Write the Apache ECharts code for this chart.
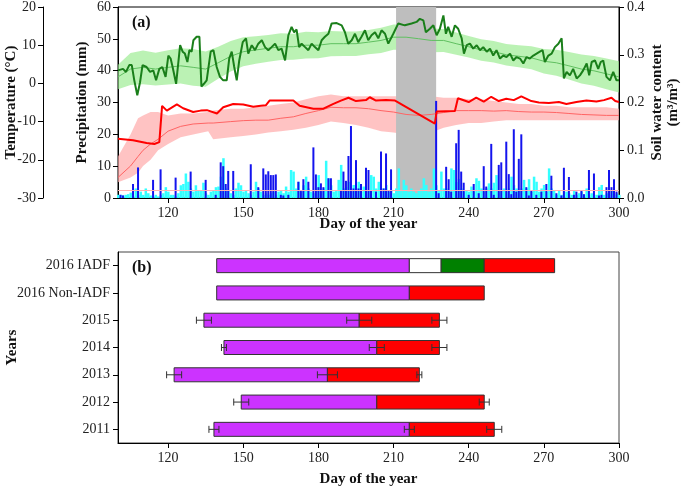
<!DOCTYPE html>
<html><head><meta charset="utf-8">
<script src="https://cdn.jsdelivr.net/npm/echarts@6/dist/echarts.min.js"></script>
<style>html,body{margin:0;padding:0;background:#fff}#c{width:685px;height:490px}</style>
</head><body><div id="c"></div>
<script>
// ---------- Data ----------
const dayTicks = [120, 150, 180, 210, 240, 270, 300];
const firstDay = 100;

// Daily precipitation (mm), day 100..300
const precip2016 = [
0,1,0.8,0,0,0,4.4,0,9.6,0,
0,0,0,0,5.7,0,0,9,0,0,
0,0,0,6.4,0,0,0,0,0,8.3,
0,0,0,0,0,5.7,0,0,0,1,
0,11.2,10,4.4,8.5,0,8.5,0,0,0,
0,0,0,10.6,0,0,3.4,0,9.3,7.4,
8.4,7.2,7.2,7.4,0,1,0.8,0,1,0,
0,0,5.1,2.3,5.9,0,5.1,0,15.9,7.4,
3.4,4.6,3.4,0,6.2,6.2,0,0,0,2.5,
8.3,5.4,13.2,22.6,3,11.9,3,4.4,0,9.5,
8.8,2.5,0,2,0,14.6,3,14,2.5,9,
0,0,0,0,0,0,0,0,0,0,
0,0,0,0,0,0,0,30.5,1.5,0,
0,9.8,5.9,2,0,17.2,21.4,8.3,4.8,0,
1,0,4.4,0,1.5,0,10,3.6,0,17,
1,0,10.4,11.2,0,17.7,7.5,1.2,21.6,2,
12.3,20,0,3.4,0.8,2.5,0,1,0,2,
0,4.4,0,7,0,1.5,0,0.8,9.5,0,
6.6,0,1,2,0,2.5,1.2,0,8.8,0,
7.7,0,0.8,1,0,3.4,8.8,3.4,5.9,2,
0];
const precipMean = [
1,1,0.8,1,1.2,1.7,0.5,3,1,2,
1,3,1.5,0.8,0.5,1,0.5,1,1.5,3.4,
2,1,1,0.5,1.5,4,4.4,7.7,5.1,3,
2,4,2.5,2.5,4.8,1.5,1,2,2.5,3.4,
3.6,6.7,12.5,3,2.5,1.5,1,3,4.8,4,
2,2.5,1.5,1,2,5.1,3,2,1,1.5,
1,1.5,2,1,2,2.5,1.5,3.6,2,8.8,
8.3,3,5.1,2,4,6.7,3,2,1.5,3,
7.2,2,3,11.7,6.2,4,2,2.5,5.7,10.4,
3,3.5,5.1,2,4.1,2.5,5.1,2,3.6,2,
2.5,7.2,6.7,3,5.1,2,3,4.1,2,2.5,
1.5,3,9.3,2.5,5.7,4,2,3,2,1.5,
2.5,3,6.2,4.1,2,3,9.3,4,2.5,8.3,
3,3,2,9.3,8.8,5,6,3,2,2.5,
2,3.6,2,6.2,5.4,3,2,3,4.6,3,
4.8,7.2,2,2.5,3,2,3,6.7,4,3,
2.5,3,5.7,3,5.9,2,6.7,5.1,2,3,
4.1,2,9.3,3,2.5,1,2.5,1,2,2,
1.5,1,2.5,1,1.5,2,1,3,1,1.5,
1,1,3.4,4.1,1,1.5,1,2.5,1,1.5,
1];
const precipRefLine = 2.4;

// 2016 daily temperature (°C): [day, value]
const temp2016 = [[100,3.4],[102,3.8],[103.2,3.0],[104.5,4.8],[105.5,4.8],[106.5,0.8],[107.7,-3.1],[108.8,0.3],[109.8,4.8],[111.4,4.3],[112.8,3.0],[114.1,3.4],[115.2,0.8],[116.5,3.8],[117.7,4.3],[119,1.7],[120.1,7.3],[121,6.5],[121.8,4.3],[123.2,-0.1],[124.8,10],[125.8,8.3],[126.7,7.8],[127.7,5.6],[128.5,8.7],[129.4,8.3],[130.1,11.3],[131.4,12.2],[132.5,12.2],[133.3,-0.8],[134.3,-0.1],[135.4,0.8],[137,8.3],[138.1,8.7],[139.4,4.3],[140.7,1.7],[142,0.8],[143.4,0.8],[144.4,6.5],[145.4,8.3],[146.4,4.3],[147.4,0.8],[148.4,6],[149.8,10.8],[151.1,11.8],[152,7.8],[153.4,10],[154.7,8.7],[156,10.4],[157.4,11.3],[158.7,9.5],[160,8.7],[161.3,9.5],[162.7,10.4],[164,8.7],[165.3,9.1],[166.7,6],[168,12.6],[169.3,14.8],[170.3,13.4],[171.3,14.1],[172.3,9.5],[173.3,10.4],[174.7,9.5],[176,8.7],[177.3,10.4],[178.6,9.5],[180,8.7],[181.3,11.3],[182.6,12.2],[184,13],[185.3,15.7],[187.3,15.8],[189.3,15.2],[190.6,13.4],[191.9,10.4],[193.3,11.3],[194.6,13],[195.9,10.8],[197.2,12.2],[198.6,13.9],[199.9,11.3],[201.2,12.6],[202.6,13.4],[203.9,11.8],[205.2,13.9],[206.6,13],[207.9,10.4],[209.9,13],[211.9,15.7],[214.5,15.2],[217.2,15.7],[219.2,16.1],[220.5,16.9],[221.9,16.5],[222.9,13.4],[224.5,14.3],[225.9,15.2],[227.2,12.6],[228.5,14.3],[229.9,17.8],[230.9,13],[231.8,14.8],[233.2,12.2],[234.5,15.2],[235.8,14.3],[237.2,11.8],[238.1,7.8],[239.2,10],[240.5,10.4],[241.8,9.1],[243.2,10],[244.5,8.7],[245.8,9.5],[247.2,8.3],[248.5,9.1],[249.8,7.3],[251.1,8.7],[252.5,6.5],[253.8,7.3],[255.1,6.9],[256.5,7.8],[257.8,6],[259.1,6.9],[260.5,6.5],[261.8,5.2],[263.1,6.9],[264.4,6.5],[265.8,7.3],[267.1,7.8],[268.4,8.3],[269.5,8.7],[270.4,5.6],[271.8,7.3],[273.1,7.8],[274.4,9.5],[275.8,10.4],[277.1,11.8],[278,1.3],[279.1,3],[280.4,2.1],[281.7,3.8],[283.1,1.3],[284.4,2.1],[285.7,3.4],[287.1,5.2],[288.1,2.1],[289.1,5.6],[290.4,6],[291.7,3.8],[292.7,5.6],[293.7,6],[295,1.7],[296.4,0.8],[297.7,3],[299,0.8],[300,0.8]];

// Multi-year temperature mean ± SD (°C)
const tempBandDays = [100,105,110,115,120,125,130,135,140,145,150,155,160,165,170,175,180,185,190,195,200,205,210,215,220,225,230,235,240,245,250,255,260,265,270,275,280,285,290,295,300];
const tempMean = [1.7,3.75,4.2,3.75,4.2,4.6,4.2,3.75,5.4,7.1,8.3,8.75,9.2,9.6,9.6,10,10,10.4,10.4,10.4,10.8,11.25,12.1,12.1,11.7,11.25,11.25,10.4,9.6,8.75,8.3,7.5,7.1,6.7,5.8,5.4,4.6,3.75,3.3,2.5,1.7];
const tempSD = [3.2,4.2,4.4,4.3,4.5,4.6,4.8,4.6,4.2,4,3.8,3.6,3.5,3.5,3.4,3.5,3.4,3.3,3.2,3.2,3.2,3.3,3.3,3.3,3.2,3.1,3,2.9,2.8,2.8,2.8,2.8,2.9,3,3.2,3.4,3.6,3.8,3.9,4,4.1];

// 2016 soil water content (m3/m3): [day, value]
const swc2016 = [[100,0.124],[106,0.121],[111.4,0.115],[114.5,0.113],[116.5,0.117],[117.6,0.193],[119.5,0.183],[123.5,0.196],[126,0.188],[130,0.18],[133,0.183],[135.5,0.184],[139.5,0.177],[142,0.19],[146,0.197],[150,0.196],[154,0.191],[157,0.193],[159,0.194],[160.5,0.204],[166,0.204],[170,0.204],[172.5,0.193],[178,0.187],[182,0.187],[186,0.197],[189,0.204],[192,0.21],[195,0.203],[199,0.205],[200.5,0.211],[203,0.204],[207,0.205],[210.6,0.204],[226.5,0.156],[227.2,0.181],[234.5,0.182],[235.7,0.209],[240,0.201],[243,0.21],[246,0.202],[249,0.212],[252,0.203],[255,0.208],[258,0.205],[261,0.213],[265,0.203],[268,0.2],[272,0.199],[276,0.201],[279,0.197],[283,0.201],[287,0.204],[291,0.202],[294,0.205],[297,0.21],[298.5,0.203],[300,0.201]];

// Multi-year soil water content mean and range
const swcBandDays = [100,105,108,110,113,116,120,125,130,136,138,145,150,155,160,165,170,175,180,185,190,195,200,205,210,215,220,225,230,235,240,245,250,255,260,265,270,275,280,285,290,295,300];
const swcMean = [0.043,0.067,0.087,0.1,0.113,0.123,0.14,0.15,0.155,0.157,0.157,0.16,0.162,0.163,0.163,0.167,0.17,0.177,0.183,0.19,0.189,0.189,0.187,0.183,0.18,0.175,0.173,0.175,0.179,0.183,0.183,0.183,0.182,0.183,0.181,0.18,0.18,0.179,0.177,0.175,0.174,0.173,0.173];
const swcLow = [0.033,0.043,0.053,0.067,0.08,0.1,0.113,0.127,0.133,0.14,0.123,0.127,0.13,0.133,0.137,0.14,0.143,0.147,0.153,0.16,0.157,0.153,0.147,0.14,0.137,0.133,0.133,0.137,0.147,0.153,0.157,0.157,0.16,0.163,0.163,0.163,0.163,0.163,0.163,0.163,0.163,0.163,0.163];
const swcHigh = [0.087,0.133,0.167,0.173,0.18,0.18,0.173,0.177,0.177,0.18,0.183,0.187,0.187,0.19,0.193,0.197,0.2,0.207,0.213,0.217,0.213,0.213,0.213,0.213,0.213,0.213,0.213,0.213,0.21,0.21,0.207,0.207,0.203,0.2,0.197,0.197,0.193,0.193,0.19,0.19,0.19,0.19,0.187];

const missingPeriod = [211, 227];

// Panel (b): xylogenesis phases
const years = ['2011', '2012', '2013', '2014', '2015', '2016 Non-IADF', '2016 IADF'];
const enlargeStart = [138.3, 149.2, 122.4, 142.3, 134.3, 139.4, 139.4];
const enlargeStartErr = [2, 3, 3, 1, 3, 0, 0];
const wallStart = [216.3, 203.3, 183.6, 203.3, 196.3, 216.3, 216.3];
const wallStartErr = [2, 0, 4, 3, 5, 0, 0];
const growthEnd = [250.2, 246.2, 220.3, 228.3, 228.3, 246.2, 274.3];
const growthEndErr = [3, 2, 1, 3, 3, 0, 0];
const iadfWhiteEnd = 229;
const iadfGreenEnd = 246.2;

// ---------- Chart ----------
const FONT = 'Liberation Serif';
const chart = echarts.init(document.getElementById('c'));

function band(days, lo, hi, yIdx, color) {
  return {
    type: 'custom', xAxisIndex: 0, yAxisIndex: yIdx, z: 1, silent: true,
    data: [[days[0], lo[0]]],
    renderItem: function (params, api) {
      const pts = [];
      for (let i = 0; i < days.length; i++) pts.push(api.coord([days[i], hi[i]]));
      for (let i = days.length - 1; i >= 0; i--) pts.push(api.coord([days[i], lo[i]]));
      return { type: 'polygon', shape: { points: pts }, style: { fill: color } };
    }
  };
}

const tempLo = tempMean.map((m, i) => m - tempSD[i]);
const tempHi = tempMean.map((m, i) => m + tempSD[i]);

const axisCommon = {
  nameMoveOverlap: false,
  axisLine: { show: true, lineStyle: { color: '#000', width: 1 } },
  axisTick: { show: true, length: 5, lineStyle: { color: '#000' } },
  axisLabel: { color: '#222', fontSize: 14, fontFamily: FONT },
  splitLine: { show: false },
  nameTextStyle: { color: '#111', fontSize: 15, fontWeight: 'bold', fontFamily: FONT }
};

function xAxisDef(grid, gap) {
  return Object.assign({}, axisCommon, {
    type: 'value', gridIndex: grid, min: 100, max: 300,
    name: 'Day of the year', nameLocation: 'middle', nameGap: gap,
    axisTick: { show: true, length: 5, customValues: dayTicks, lineStyle: { color: '#000' } },
    axisLabel: { color: '#222', fontSize: 14, fontFamily: FONT, margin: 8, customValues: dayTicks }
  });
}

// Gantt segments
const segColors = ['#CC33FF', '#FF0000', '#FFFFFF', '#008000'];
const segments = [];
for (let i = 0; i < years.length; i++) {
  segments.push([enlargeStart[i], wallStart[i], i, 0]);
  if (years[i] === '2016 IADF') {
    segments.push([wallStart[i], iadfWhiteEnd, i, 2]);
    segments.push([iadfWhiteEnd, iadfGreenEnd, i, 3]);
    segments.push([iadfGreenEnd, growthEnd[i], i, 1]);
  } else {
    segments.push([wallStart[i], growthEnd[i], i, 1]);
  }
}
const errs = [];
for (let i = 0; i < years.length; i++) {
  if (enlargeStartErr[i]) errs.push([enlargeStart[i], i, enlargeStartErr[i]]);
  if (wallStartErr[i]) errs.push([wallStart[i], i, wallStartErr[i]]);
  if (growthEndErr[i]) errs.push([growthEnd[i], i, growthEndErr[i]]);
}

const option = {
  animation: false,
  backgroundColor: '#fff',
  textStyle: { fontFamily: FONT },
  grid: [
    { left: 118, right: 66, top: 7, height: 191, outerBoundsMode: 'none', containLabel: false, show: true, borderColor: '#000', borderWidth: 1, backgroundColor: 'transparent' },
    { left: 118, right: 66, top: 252, height: 191, outerBoundsMode: 'none', containLabel: false, show: true, borderColor: '#444', borderWidth: 1, backgroundColor: 'transparent' }
  ],
  xAxis: [xAxisDef(0, 19), xAxisDef(1, 29)],
  yAxis: [
    Object.assign({}, axisCommon, {
      type: 'value', gridIndex: 0, position: 'left', min: 0, max: 60, interval: 10,
      name: 'Precipitation (mm)', nameLocation: 'middle', nameGap: 28,
      axisLabel: { color: '#222', fontSize: 14, fontFamily: FONT, margin: 7 }
    }),
    Object.assign({}, axisCommon, {
      type: 'value', gridIndex: 0, position: 'left', offset: 75, min: -30, max: 20, interval: 10,
      name: 'Temperature (°C)', nameLocation: 'middle', nameGap: 24,
      axisLabel: { color: '#222', fontSize: 14, fontFamily: FONT, margin: 7 }
    }),
    Object.assign({}, axisCommon, {
      type: 'value', gridIndex: 0, position: 'right', min: 0, max: 0.4, interval: 0.1,
      name: 'Soil water content\n(m³/m³)', nameLocation: 'middle', nameGap: 30, nameRotate: 90,
      nameTextStyle: { color: '#111', fontSize: 15, fontWeight: 'bold', fontFamily: FONT, lineHeight: 16 },
      axisLabel: { color: '#222', fontSize: 14, fontFamily: FONT, margin: 8, formatter: v => v.toFixed(1) }
    }),
    Object.assign({}, axisCommon, {
      type: 'category', gridIndex: 1, data: years,
      name: 'Years', nameLocation: 'middle', nameGap: 98,
      axisTick: { show: true, length: 5, alignWithLabel: true, lineStyle: { color: '#000' } },
      axisLabel: { color: '#222', fontSize: 14, fontFamily: FONT, margin: 8 }
    })
  ],
  graphic: [
    { type: 'text', left: 132, top: 15, style: { text: '(a)', fontSize: 16, fontWeight: 'bold', fontFamily: FONT, fill: '#111' } },
    { type: 'text', left: 132, top: 260, style: { text: '(b)', fontSize: 16, fontWeight: 'bold', fontFamily: FONT, fill: '#111' } }
  ],
  series: [
    band(tempBandDays, tempLo, tempHi, 1, 'rgba(150,235,140,0.65)'),
    band(swcBandDays, swcLow, swcHigh, 2, 'rgba(255,170,170,0.7)'),
    {
      type: 'custom', xAxisIndex: 0, yAxisIndex: 0, z: 2, silent: true,
      data: [[missingPeriod[0], 0]],
      renderItem: function (params, api) {
        const p1 = api.coord([missingPeriod[0], 60]);
        const p2 = api.coord([missingPeriod[1], 0]);
        return { type: 'rect', shape: { x: p1[0], y: p1[1], width: p2[0] - p1[0], height: p2[1] - p1[1] }, style: { fill: '#BEBEBE' } };
      }
    },
    {
      type: 'bar', xAxisIndex: 0, yAxisIndex: 0, z: 3, barWidth: 2.5, barGap: '-100%',
      data: precipMean.map((v, i) => [firstDay + i, v]),
      itemStyle: { color: '#33FFFF' },
      markLine: { silent: true, symbol: 'none', label: { show: false }, lineStyle: { color: '#FFB0B0', width: 1, type: 'solid' }, data: [{ yAxis: precipRefLine }] }
    },
    {
      type: 'bar', xAxisIndex: 0, yAxisIndex: 0, z: 3, barWidth: 2, barGap: '-100%',
      data: precip2016.map((v, i) => [firstDay + i, v]),
      itemStyle: { color: '#1414EE' }
    },
    {
      type: 'line', xAxisIndex: 0, yAxisIndex: 2, z: 4, symbol: 'none', silent: true,
      data: swcBandDays.map((d, i) => [d, swcMean[i]]),
      lineStyle: { color: '#FF6464', width: 1 }
    },
    {
      type: 'line', xAxisIndex: 0, yAxisIndex: 1, z: 4, symbol: 'none', silent: true,
      data: tempBandDays.map((d, i) => [d, tempMean[i]]),
      lineStyle: { color: '#60C060', width: 1 }
    },
    {
      type: 'line', xAxisIndex: 0, yAxisIndex: 2, z: 5, symbol: 'none', silent: true,
      data: swc2016, lineStyle: { color: '#FF0000', width: 2 }
    },
    {
      type: 'line', xAxisIndex: 0, yAxisIndex: 1, z: 5, symbol: 'none', silent: true,
      data: temp2016, lineStyle: { color: '#1A7F1A', width: 2 }
    },
    {
      type: 'custom', xAxisIndex: 1, yAxisIndex: 3, z: 3, silent: true,
      encode: { x: [0, 1], y: 2 },
      data: segments,
      renderItem: function (params, api) {
        const c = api.value(2);
        const p1 = api.coord([api.value(0), c]);
        const p2 = api.coord([api.value(1), c]);
        const h = 14;
        return { type: 'rect', shape: { x: p1[0], y: p1[1] - h / 2, width: p2[0] - p1[0], height: h },
          style: { fill: segColors[api.value(3)], stroke: '#333', lineWidth: 1 } };
      }
    },
    {
      type: 'custom', xAxisIndex: 1, yAxisIndex: 3, z: 6, silent: true,
      encode: { x: 0, y: 1 },
      data: errs,
      renderItem: function (params, api) {
        const c = api.value(0), y = api.value(1), e = api.value(2);
        const p1 = api.coord([c - e, y]);
        const p2 = api.coord([c + e, y]);
        const h = 3.5;
        const st = { stroke: '#333', lineWidth: 1 };
        return { type: 'group', children: [
          { type: 'line', shape: { x1: p1[0], y1: p1[1], x2: p2[0], y2: p2[1] }, style: st },
          { type: 'line', shape: { x1: p1[0], y1: p1[1] - h, x2: p1[0], y2: p1[1] + h }, style: st },
          { type: 'line', shape: { x1: p2[0], y1: p2[1] - h, x2: p2[0], y2: p2[1] + h }, style: st }
        ] };
      }
    }
  ]
};
chart.setOption(option);
</script>
</body></html>
